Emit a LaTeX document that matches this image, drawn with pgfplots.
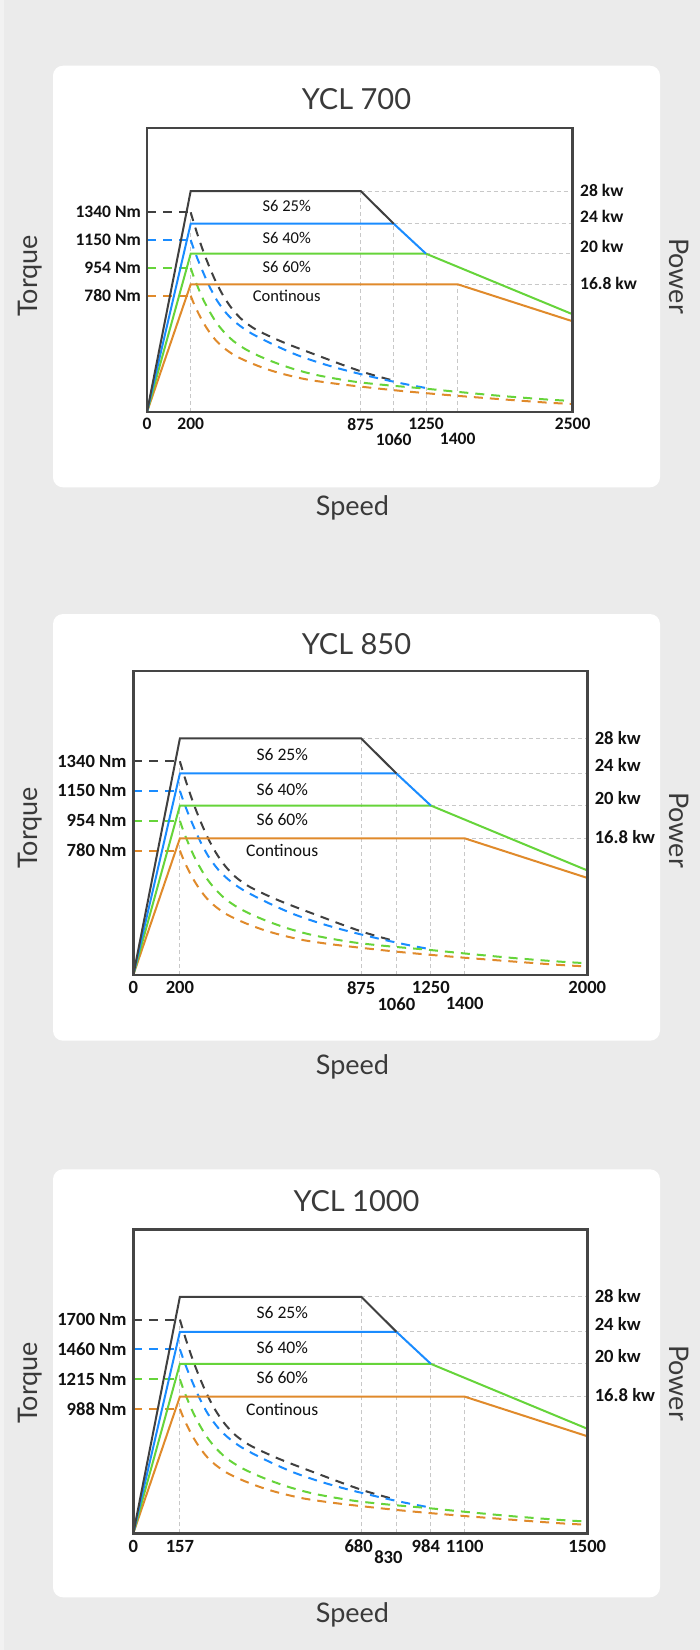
\documentclass[border=0pt]{standalone}
\usepackage{fontspec}
\setmainfont{Carlito}
\newfontfamily\latof{Lato}
\usepackage{pgfplots}
\pgfplotsset{compat=1.18}
\usepackage{pgfplotstable}

\definecolor{bgC}{HTML}{EBEBEB}
\definecolor{stripC}{HTML}{F2F2F2}
\definecolor{frameC}{HTML}{454545}
\definecolor{blkC}{HTML}{404040}
\definecolor{bluC}{HTML}{1A8CFF}
\definecolor{grnC}{HTML}{66D43A}
\definecolor{orgC}{HTML}{E08A2B}
\definecolor{gridC}{HTML}{C8C8C8}
\definecolor{txtC}{HTML}{3A3A3A}
\definecolor{lblC}{HTML}{111111}

% solid limit lines (schematic units of the drawing)
\pgfplotstableread{
x y
0 0
43.7 221
213.7 221
246.7 188.3
}\blackSolid
\pgfplotstableread{
x y
0 0
43.7 188.3
246.7 188.3
279 158.3
}\blueSolid
\pgfplotstableread{
x y
0 0
43.7 158.3
279 158.3
425.7 97.7
}\greenSolid
\pgfplotstableread{
x y
0 0
43.7 127.7
310.7 127.7
425.7 90.7
}\orangeSolid
% dashed torque curves
\pgfplotstableread{
x y
43.7 199.7
47 188.5
51 176
56 161.5
62 146
69 130
77 115
86 102
96 91.5
108 83
122 76
138 69
156 62
176 54.5
196 47
216 40
232 35.3
246.7 31.3
}\blackCurve
\pgfplotstableread{
x y
43.7 172
47 162.5
51 152
56 140
62 126.5
70 111.5
80 98
90 88.5
102 80
116 72.5
132 64.8
150 57
170 50
190 44
210 38.8
230 34
250 29.6
265 26.6
279 24
}\blueCurve
\pgfplotstableread{
x y
43.7 144
47 134.5
51 124.5
56 113
62 101.5
69 90
77 80
87 70.5
99 62.5
112 56
127 49.8
145 43.5
165 38
185 34
210 30
240 26.8
277 23.5
310 20.2
355 16
400 12.5
425.7 11
}\greenCurve
\pgfplotstableread{
x y
43.7 116.3
47 108
51 99.5
56 90
62 80.5
69 71.5
77 64
87 57
98 51.5
110 46.5
124 41.5
140 37
160 32.5
185 28.8
210 25.8
245 22
277 19
310 16.2
355 12.7
400 9.4
425.7 8
}\orangeCurve

\def\tfs{17.5}
\def\ifs{16.5}
\newcommand\tickfont{\fontsize{\tfs}{\tfs}\selectfont\bfseries}
\newcommand\inlabfont{\fontsize{\ifs}{\ifs}\selectfont}
\newcommand\titlefont{\latof\fontsize{29}{34}\selectfont}
\newcommand\axlabfont{\latof\fontsize{27}{32}\selectfont}

\pgfplotsset{
  gridline/.style={draw=gridC, line width=0.9pt, dash pattern=on 4pt off 3pt, forget plot},
  dashser/.style={line width=2pt, dash pattern=on 9pt off 7pt},
  solidser/.style={line width=2pt},
  panel/.style={
    scale only axis, anchor=south west,
    xmin=0, xmax=425.7, ymin=0, ymax=284,
    axis on top, clip=false,
    axis line style={line width=2.8pt, draw=frameC},
    major tick length=0pt, tick style={draw=none},
    ytick={199.7,172,144,116.3},
    yticklabel style={font=\tickfont, text=lblC, anchor=east, inner sep=0pt},
    xticklabel style={font=\tickfont, text=lblC, anchor=north, inner sep=0pt},
    /pgf/number format/assume math mode=true,
  }
}

\newcommand\panelcontent{%
  \addplot[gridline] coordinates {(43.7,0) (43.7,198)};
  \addplot[gridline] coordinates {(213.7,0) (213.7,221)};
  \addplot[gridline] coordinates {(246.7,0) (246.7,188.3)};
  \addplot[gridline] coordinates {(279,0) (279,158.3)};
  \addplot[gridline] coordinates {(310.7,0) (310.7,127.7)};
  \addplot[gridline] coordinates {(213.7,221) (425.7,221)};
  \addplot[gridline] coordinates {(246.7,188.3) (425.7,188.3)};
  \addplot[gridline] coordinates {(279,158.3) (425.7,158.3)};
  \addplot[gridline] coordinates {(310.7,127.7) (425.7,127.7)};
  \addplot[dashser, blkC] coordinates {(0,199.7) (43.7,199.7)};
  \addplot[dashser, blkC, smooth] table {\blackCurve};
  \addplot[dashser, bluC] coordinates {(0,172) (43.7,172)};
  \addplot[dashser, bluC, smooth] table {\blueCurve};
  \addplot[dashser, grnC] coordinates {(0,144) (43.7,144)};
  \addplot[dashser, grnC, smooth] table {\greenCurve};
  \addplot[dashser, orgC] coordinates {(0,116.3) (43.7,116.3)};
  \addplot[dashser, orgC, smooth] table {\orangeCurve};
  \addplot[solidser, orgC] table {\orangeSolid};
  \addplot[solidser, grnC] table {\greenSolid};
  \addplot[solidser, bluC] table {\blueSolid};
  \addplot[solidser, blkC] table {\blackSolid};
  \node[font=\inlabfont, text=lblC] at (axis cs:139.7,206.3) {S6 25\%};
  \node[font=\inlabfont, text=lblC] at (axis cs:139.7,173.7) {S6 40\%};
  \node[font=\inlabfont, text=lblC] at (axis cs:139.7,145.3) {S6 60\%};
  \node[font=\inlabfont, text=lblC] at (axis cs:139.7,116) {Continous};
  \node[font=\tickfont, text=lblC, anchor=west, inner sep=0pt, xshift=7.3pt] at (axis cs:425.7,221.3) {28 kw};
  \node[font=\tickfont, text=lblC, anchor=west, inner sep=0pt, xshift=7.3pt] at (axis cs:425.7,196) {24 kw};
  \node[font=\tickfont, text=lblC, anchor=west, inner sep=0pt, xshift=7.3pt] at (axis cs:425.7,165.3) {20 kw};
  \node[font=\tickfont, text=lblC, anchor=west, inner sep=0pt, xshift=7.3pt] at (axis cs:425.7,129) {16.8 kw};
}

\begin{document}
\begin{tikzpicture}
\path[use as bounding box] (0pt,0pt) rectangle (700pt,-1650pt);
\fill[bgC] (0pt,0pt) rectangle (700pt,-1650pt);
\fill[stripC] (0pt,0pt) rectangle (4pt,-1650pt);
\fill[white, rounded corners=10pt] (53pt,-65.7pt) rectangle (660pt,-487.3pt);
\fill[white, rounded corners=10pt] (53pt,-614pt) rectangle (660pt,-1040.7pt);
\fill[white, rounded corners=10pt] (53pt,-1169.3pt) rectangle (660pt,-1597.3pt);

% ---------- YCL 700 ----------
\begin{axis}[panel, at={(147pt,-412pt)}, width=425.7pt, height=284pt,
  yticklabels={1340 Nm,1150 Nm,954 Nm,780 Nm},
  yticklabel style={xshift=-6pt},
  xtick={0,43.7,213.7,279,425.7},
  xticklabels={0,200,875,1250,2500},
  xticklabel style={yshift=-6pt},
  extra x ticks={246.7,310.7},
  extra x tick labels={1060,1400},
  extra x tick style={xticklabel style={yshift=-15.3pt}},
]
\panelcontent
\end{axis}
\node[font=\titlefont, text=txtC, anchor=base] at (356.5pt,-109.2pt) {YCL 700};
\node[font=\axlabfont, text=txtC, rotate=90] at (30pt,-276pt) {Torque};
\node[font=\axlabfont, text=txtC, rotate=-90] at (679pt,-276pt) {Power};
\node[font=\axlabfont, text=txtC, anchor=base] at (352.5pt,-515pt) {Speed};

\def\tfs{18.6}
\def\ifs{17.6}
% ---------- YCL 850 ----------
\begin{axis}[panel, at={(133.3pt,-975pt)}, width=454pt, height=304pt,
  yticklabels={1340 Nm,1150 Nm,954 Nm,780 Nm},
  yticklabel style={xshift=-6.5pt},
  xtick={0,43.7,213.7,279,425.7},
  xticklabels={0,200,875,1250,2000},
  xticklabel style={yshift=-6.5pt},
  extra x ticks={246.7,310.7},
  extra x tick labels={1060,1400},
  extra x tick style={xticklabel style={yshift=-15.7pt}},
]
\panelcontent
\end{axis}
\node[font=\titlefont, text=txtC, anchor=base] at (356.5pt,-654pt) {YCL 850};
\node[font=\axlabfont, text=txtC, rotate=90] at (30pt,-828pt) {Torque};
\node[font=\axlabfont, text=txtC, rotate=-90] at (679pt,-830pt) {Power};
\node[font=\axlabfont, text=txtC, anchor=base] at (352.5pt,-1074pt) {Speed};

% ---------- YCL 1000 ----------
\begin{axis}[panel, at={(133.3pt,-1533.3pt)}, width=454pt, height=304pt,
  yticklabels={1700 Nm,1460 Nm,1215 Nm,988 Nm},
  yticklabel style={xshift=-6.5pt},
  xtick={0,43.7,213.7,279,310.7,425.7},
  xticklabels={0,157,\hspace*{-5pt}680,\hspace*{-10pt}984,1100,1500},
  xticklabel style={yshift=-6.5pt},
  extra x ticks={246.7},
  extra x tick labels={830},
  extra x tick style={xticklabel style={yshift=-10.6pt, xshift=-8pt}},
]
\panelcontent
\end{axis}
\node[font=\titlefont, text=txtC, anchor=base] at (356.5pt,-1211pt) {YCL 1000};
\node[font=\axlabfont, text=txtC, rotate=90] at (30pt,-1383pt) {Torque};
\node[font=\axlabfont, text=txtC, rotate=-90] at (679pt,-1383pt) {Power};
\node[font=\axlabfont, text=txtC, anchor=base] at (352.5pt,-1622pt) {Speed};
\end{tikzpicture}
\end{document}
